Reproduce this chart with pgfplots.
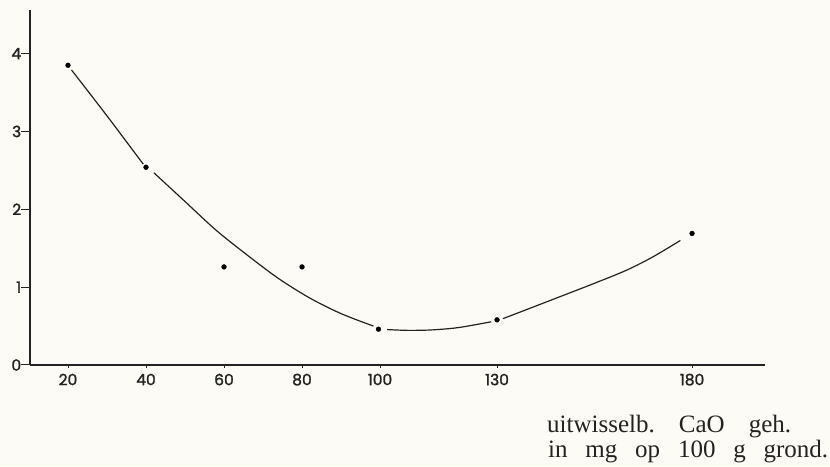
\documentclass[border=0pt]{standalone}
\usepackage{fontspec}
\usepackage{pgfplots}
\pgfplotsset{compat=1.18}
\newfontfamily\tickfont{Poppins}[FakeBold=1.5]
\newfontfamily\capfont{Liberation Serif}
\definecolor{bg}{RGB}{252,251,245}
\definecolor{ink}{RGB}{35,35,35}
\begin{document}
\begin{tikzpicture}
\useasboundingbox (0,0) rectangle (830pt,466pt);
\fill[bg] (0,0) rectangle (830pt,466pt);
\begin{axis}[
  at={(30pt,101pt)}, anchor=south west,
  scale only axis, width=735pt, height=355pt,
  xmin=10.26, xmax=198.7, ymin=0, ymax=4.56,
  axis lines=left,
  axis line style={-, line width=1.3pt, ink},
  xtick={20,40,60,80,100,130,180},
  ytick={0,1,2,3,4},
  tick align=outside,
  xtick style={line width=0.8pt, ink},
  ytick style={line width=1pt, ink},
  x tick style={/pgfplots/major tick length=3pt},
  y tick style={/pgfplots/major tick length=9pt},
  /pgf/number format/assume math mode=true,
  ticklabel style={font=\tickfont\fontsize{15.5}{15.5}\selectfont, text=ink},
  xticklabel style={yshift=-1pt},
  yticklabel style={xshift=-1pt},
  clip=false,
]
\addplot[ink, line width=1.2pt, smooth] coordinates {(20.9,3.79)(30,3.20)(39.3,2.58)};
\addplot[ink, line width=1.2pt, smooth] coordinates {(42,2.47)(50,2.10)(58,1.73)(66,1.41)(74,1.11)(82,0.86)(90,0.66)(98.3,0.50)};
\addplot[ink, line width=1.2pt, smooth] coordinates {(101.8,0.455)(107,0.445)(113,0.45)(120,0.48)(128.5,0.555)};
\addplot[ink, line width=1.2pt, smooth] coordinates {(131.5,0.595)(138,0.72)(146,0.875)(155,1.05)(163.3,1.22)(170,1.39)(177,1.60)};
\addplot[only marks, mark=*, mark size=2.4pt, black] coordinates {
(20,3.85)(40,2.54)(60,1.26)(80,1.26)(99.6,0.46)(130,0.58)(180,1.69)};
\end{axis}
\node[anchor=base west, inner sep=0pt, font=\capfont\fontsize{25}{25}\selectfont, text=ink] at (547pt,34pt) {\makebox[244pt][s]{uitwisselb.\ CaO\ geh.}};
\node[anchor=base west, inner sep=0pt, font=\capfont\fontsize{25}{25}\selectfont, text=ink] at (548pt,9pt) {\makebox[280pt][s]{in mg op 100 g grond.}};
\end{tikzpicture}
\end{document}
